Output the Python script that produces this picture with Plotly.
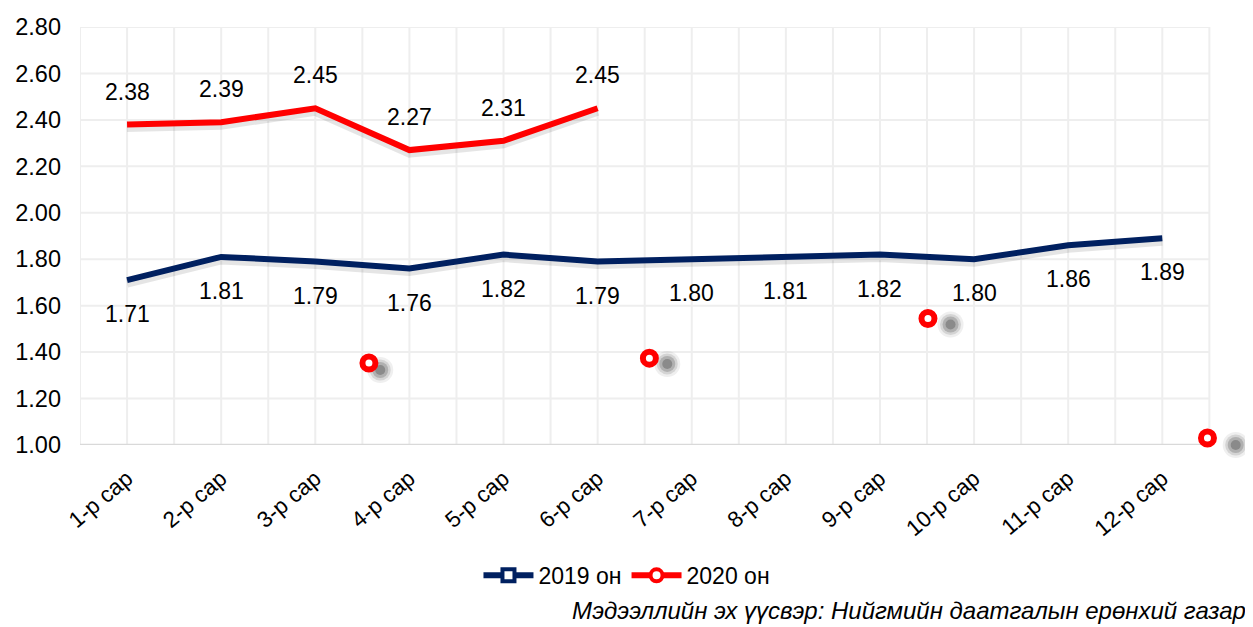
import plotly.graph_objects as go

months = ["1-р сар", "2-р сар", "3-р сар", "4-р сар", "5-р сар", "6-р сар",
          "7-р сар", "8-р сар", "9-р сар", "10-р сар", "11-р сар", "12-р сар"]
vals_2019 = [1.71, 1.81, 1.79, 1.76, 1.82, 1.79, 1.80, 1.81, 1.82, 1.80, 1.86, 1.89]
vals_2020 = [2.38, 2.39, 2.45, 2.27, 2.31, 2.45]

# stray marker artefacts visible in the original chart (position in category units)
stray_x = [2.57, 5.55, 8.51, 11.48]
stray_y = [1.353, 1.374, 1.545, 1.030]
shadow_x = [2.69, 5.74, 8.75, 11.78]
shadow_y = [1.323, 1.349, 1.519, 1.000]

y_ticks = [1.0, 1.2, 1.4, 1.6, 1.8, 2.0, 2.2, 2.4, 2.6, 2.8]

NAVY = "#002060"
RED = "#FF0000"
FONT = "Liberation Sans, Arial, sans-serif"
GRID = "#EEEEEE"

x19 = list(range(len(vals_2019)))
x20 = list(range(len(vals_2020)))
x_lo, x_hi = -0.5, len(months) - 0.5

fig = go.Figure()

# gridlines (category halves vertically, value ticks horizontally)
n_half = int((x_hi - x_lo) * 2) + 1
for k in range(n_half):
    xv = x_lo + k * 0.5
    fig.add_shape(type="line", xref="x", yref="y", x0=xv, x1=xv, y0=y_ticks[0], y1=y_ticks[-1],
                  line=dict(color=GRID, width=2), layer="below")
for yv in y_ticks[1:]:
    fig.add_shape(type="line", xref="x", yref="y", x0=x_lo, x1=x_hi, y0=yv, y1=yv,
                  line=dict(color=GRID, width=2), layer="below")
fig.add_shape(type="line", xref="x", yref="y", x0=x_lo, x1=x_hi, y0=y_ticks[0], y1=y_ticks[0],
              line=dict(color="#D9D9D9", width=2.5), layer="below")

# soft line shadows
fig.add_trace(go.Scatter(x=x19, y=[v - 0.013 for v in vals_2019], mode="lines",
                         line=dict(color="rgba(0,0,0,0.10)", width=9),
                         showlegend=False, hoverinfo="skip"))
fig.add_trace(go.Scatter(x=x20, y=[v - 0.013 for v in vals_2020], mode="lines",
                         line=dict(color="rgba(0,0,0,0.10)", width=9),
                         showlegend=False, hoverinfo="skip"))

fig.add_trace(go.Scatter(x=x19, y=vals_2019, mode="lines",
                         line=dict(color=NAVY, width=6), showlegend=False))
fig.add_trace(go.Scatter(x=x20, y=vals_2020, mode="lines",
                         line=dict(color=RED, width=6), showlegend=False))

# stray marker shadows (blurred look via stacked translucent circles)
for size, alpha in [(26, 0.08), (21, 0.14), (16, 0.22), (10, 0.30)]:
    fig.add_trace(go.Scatter(x=shadow_x, y=shadow_y, mode="markers",
                             marker=dict(size=size, color=f"rgba(50,50,50,{alpha})",
                                         line=dict(width=0)),
                             showlegend=False, hoverinfo="skip", cliponaxis=False))
fig.add_trace(go.Scatter(x=stray_x, y=stray_y, mode="markers",
                         marker=dict(symbol="circle", size=13, color="white",
                                     line=dict(color=RED, width=6)),
                         showlegend=False, hoverinfo="skip", cliponaxis=False))

# legend entries
fig.add_trace(go.Scatter(x=[None], y=[None], mode="lines+markers", name="2019 он",
                         line=dict(color=NAVY, width=6),
                         marker=dict(symbol="square", size=12, color="white",
                                     line=dict(color=NAVY, width=4))))
fig.add_trace(go.Scatter(x=[None], y=[None], mode="lines+markers", name="2020 он",
                         line=dict(color=RED, width=6),
                         marker=dict(symbol="circle", size=12, color="white",
                                     line=dict(color=RED, width=4))))

annotations = []
for i, v in enumerate(vals_2019):
    annotations.append(dict(x=i, y=v, text=f"{v:.2f}", showarrow=False, yshift=-34,
                            font=dict(size=23, color="black", family=FONT)))
for i, v in enumerate(vals_2020):
    annotations.append(dict(x=i, y=v, text=f"{v:.2f}", showarrow=False, yshift=33,
                            font=dict(size=23, color="black", family=FONT)))
annotations.append(dict(xref="paper", yref="paper", x=1.0009, y=-0.395,
                        xanchor="right", yanchor="middle", showarrow=False,
                        text="<i>Мэдээллийн эх үүсвэр: Нийгмийн даатгалын ерөнхий газар</i>",
                        font=dict(size=24, color="black", family=FONT)))

fig.update_layout(
    width=1245, height=619,
    margin=dict(l=72, r=6, t=14, b=182),
    paper_bgcolor="white", plot_bgcolor="white",
    font=dict(family=FONT, color="black"),
    annotations=annotations,
    legend=dict(orientation="h", x=0.4687, y=-0.312, xanchor="center", yanchor="middle",
                font=dict(size=23, family=FONT), itemwidth=50, traceorder="normal"),
    xaxis=dict(range=[x_lo, 11.9], tickmode="array", tickvals=x19, ticktext=months,
               tickangle=-40, tickfont=dict(size=22.5, family=FONT),
               showgrid=False, zeroline=False, showline=False, ticks="",
               ticklabelstandoff=15),
    yaxis=dict(range=[y_ticks[0], y_ticks[-1]], tickmode="array", tickvals=y_ticks,
               tickformat=".2f", tickfont=dict(size=23.5, family=FONT),
               showgrid=False, zeroline=False, showline=False, ticks="",
               ticklabelstandoff=18),
)

fig.write_html("out.html")
